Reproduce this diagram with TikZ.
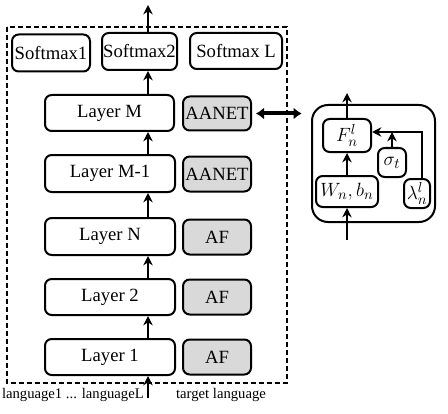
\documentclass[tikz,border=0pt]{standalone}
\usepackage{fontspec}
\setmainfont{Liberation Serif}
\usetikzlibrary{arrows.meta}
\begin{document}
\begin{tikzpicture}[x=0.75pt,y=-0.75pt,
  box/.style={draw,line width=1.5pt,rounded corners=5pt,inner sep=0pt,font=\fontsize{14}{16}\selectfont},
  gbox/.style={box,fill=gray!30},
  mbox/.style={box,font=\fontsize{15}{17}\selectfont},
  arr/.style={line width=1.2pt,-{Stealth[length=7pt,width=7pt]}},
  lbl/.style={font=\fontsize{11}{13}\selectfont,inner sep=0pt}]
\useasboundingbox (0,0) rectangle (448,413);
\draw[line width=1.5pt,dash pattern=on 4pt off 2pt] (7,27) rectangle (287,383);
\node[box,minimum width=78*0.75pt,minimum height=37*0.75pt] (s1) at (51,53) {Softmax1};
\node[box,minimum width=75*0.75pt,minimum height=37*0.75pt] (s2) at (139.5,51.5) {Softmax2};
\node[box,minimum width=92*0.75pt,minimum height=36*0.75pt] (sL) at (236,51) {Softmax L};
\node[box,minimum width=129*0.75pt,minimum height=36*0.75pt] (lM) at (109.5,113) {Layer M};
\node[gbox,minimum width=68*0.75pt,minimum height=34*0.75pt] (aM) at (217,113.5) {AANET};
\node[box,minimum width=130*0.75pt,minimum height=37*0.75pt] (lM1) at (110,173.5) {Layer M-1};
\node[gbox,minimum width=68*0.75pt,minimum height=35*0.75pt] (aM1) at (217,174) {AANET};
\node[box,minimum width=130*0.75pt,minimum height=37*0.75pt] (lN) at (110,236.5) {Layer N};
\node[gbox,minimum width=68*0.75pt,minimum height=35*0.75pt] (aN) at (217,237) {AF};
\node[box,minimum width=130*0.75pt,minimum height=36*0.75pt] (l2) at (110,297) {Layer 2};
\node[gbox,minimum width=68*0.75pt,minimum height=35*0.75pt] (a2) at (217,297) {AF};
\node[box,minimum width=130*0.75pt,minimum height=36*0.75pt] (l1) at (110,357) {Layer 1};
\node[gbox,minimum width=68*0.75pt,minimum height=35*0.75pt] (a1) at (217,357) {AF};
\coordinate (top) at (148,5);
\coordinate (bot) at (148,398);
\draw[arr] (bot) -- (bot|-l1.south);
\draw[arr] (l1.north-|bot) -- (bot|-l2.south);
\draw[arr] (l2.north-|bot) -- (bot|-lN.south);
\draw[arr] (lN.north-|bot) -- (bot|-lM1.south);
\draw[arr] (lM1.north-|bot) -- (bot|-lM.south);
\draw[arr] (lM.north-|bot) -- (bot|-s2.south);
\draw[arr] (s2.north-|bot) -- (top);
\node[lbl,anchor=east] (lang) at (144,395) {language1 ... languageL};
\node[lbl] (tgt) at (221,395) {target language};
% right box
\node[draw,line width=1.5pt,rounded corners=12pt,minimum width=123*0.75pt,minimum height=117*0.75pt] (big) at (373.5,163.5) {};
\node[mbox,minimum width=48*0.75pt,minimum height=33*0.75pt] (F) at (347,135.5) {$F_n^l$};
\node[mbox,minimum width=62*0.75pt,minimum height=31*0.75pt] (W) at (347,191.5) {$W_n,b_n$};
\node[mbox,minimum width=28*0.75pt,minimum height=29*0.75pt] (sg) at (392,162.5) {$\sigma_t$};
\node[mbox,minimum width=26*0.75pt,minimum height=29*0.75pt] (lam) at (417,193.5) {$\lambda_n^l$};
\draw[line width=3pt,{Latex[length=6pt,width=9pt]}-{Latex[length=6pt,width=9pt]}] ([xshift=3pt]aM.east) -- ([xshift=-7pt]big.west|-aM.east);
\coordinate (rin) at (347,240);
\coordinate (rout) at (347,93);
\coordinate (jn) at (422,132);
\draw[arr] (rin) -- (W.south);
\draw[arr] (W.north) -- (F.south);
\draw[arr] (F.north) -- (rout);
\draw[arr] (lam.north-|jn) -- (jn) -- (F.east|-jn);
\draw[arr] (sg.north) -- (sg.north|-jn);
\end{tikzpicture}
\end{document}
